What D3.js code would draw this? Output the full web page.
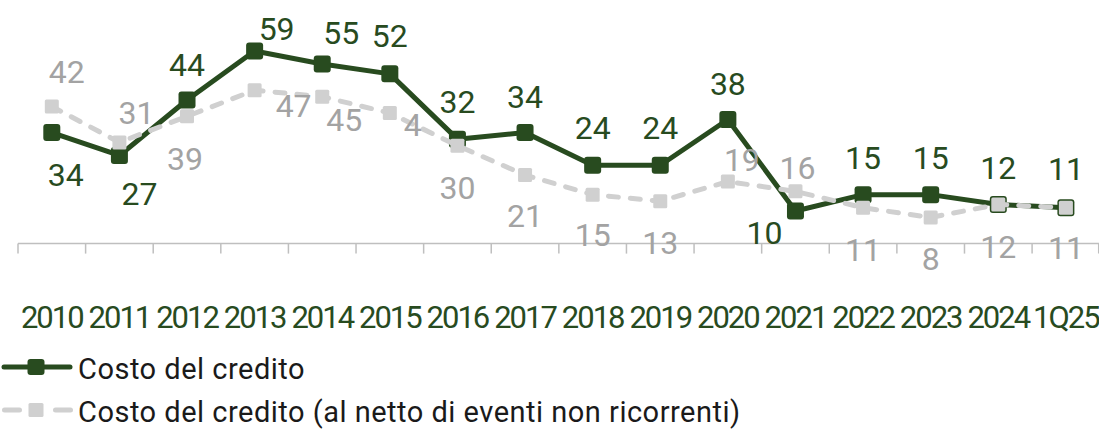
<!DOCTYPE html>
<html>
<head>
<meta charset="utf-8">
<script src="https://cdn.jsdelivr.net/npm/d3@7"></script>
<style>
  html, body { margin: 0; padding: 0; background: #ffffff; }
  svg { display: block; font-family: Roboto, "DejaVu Sans", sans-serif; }
</style>
</head>
<body>
<svg id="chart" width="1099" height="429"></svg>
<script>
// Periods on the horizontal axis
const categories = ["2010", "2011", "2012", "2013", "2014", "2015", "2016", "2017",
                    "2018", "2019", "2020", "2021", "2022", "2023", "2024", "1Q25"];
// Cost of credit (basis points)
const creditCost = [34, 27, 44, 59, 55, 52, 32, 34, 24, 24, 38, 10, 15, 15, 12, 11];
// Cost of credit excluding non-recurring events (basis points)
const creditCostNet = [42, 31, 39, 47, 45, 40, 30, 21, 15, 13, 19, 16, 11, 8, 12, 11];
// Series names
const seriesNames = ["Costo del credito", "Costo del credito (al netto di eventi non ricorrenti)"];

// Data-label placement relative to each point: [dx, dy] to the label centre
const creditCostLabelOffset = [
  [14, 42], [20, 38], [0, -35], [22, -22], [19, -31], [0, -38], [0, -37], [0, -36],
  [0, -38], [0, -38], [0, -36], [-31, 22], [0, -37], [0, -37], [0, -37], [0, -39]
];
const creditCostNetLabelOffset = [
  [15, -35], [17, -30], [-2, 42], [39, 15], [22, 23], [23, 12], [0, 42], [0, 41],
  [0, 40], [0, 41], [14, -22], [2, -24], [0, 42], [0, 41], [0, 42], [0, 40]
];

const GREEN = "#284b1f";
const GREY_LINE = "#d0d0d0";
const GREY_TEXT = "#a3a3a3";
const AXIS = "#bfbfbf";

const svg = d3.select("#chart");

const x = d3.scaleBand().domain(categories).range([18, 1099.7]).paddingInner(0).paddingOuter(0);
const y = d3.scaleLinear().domain([0, 59]).range([243.6, 51]);
const cx = c => x(c) + x.bandwidth() / 2;

// Category axis: baseline, boundary ticks, labels
const axisY = y(0);
svg.append("line")
  .attr("x1", x.range()[0]).attr("x2", x.range()[1])
  .attr("y1", axisY).attr("y2", axisY)
  .attr("stroke", AXIS).attr("stroke-width", 1.5);

const tickPos = categories.map(c => x(c)).concat([x.range()[1] - 1]);
svg.append("g").selectAll("line").data(tickPos).join("line")
  .attr("x1", d => d).attr("x2", d => d)
  .attr("y1", axisY).attr("y2", axisY + 10)
  .attr("stroke", AXIS).attr("stroke-width", 1.5);

svg.append("g").selectAll("text").data(categories).join("text")
  .attr("x", d => cx(d))
  .attr("y", 328)
  .attr("text-anchor", "middle")
  .attr("font-size", 31)
  .attr("letter-spacing", -2)
  .attr("fill", GREEN)
  .text(d => d);

// Series lines
const line = d3.line().x((d, i) => cx(categories[i])).y(d => y(d));

svg.append("path").datum(creditCost)
  .attr("d", line).attr("fill", "none")
  .attr("stroke", GREEN).attr("stroke-width", 5).attr("stroke-linejoin", "round");

svg.append("g").selectAll("rect").data(creditCost).join("rect")
  .attr("x", (d, i) => cx(categories[i]) - 8.5)
  .attr("y", d => y(d) - 8.5)
  .attr("width", 17).attr("height", 17).attr("rx", 3)
  .attr("fill", GREEN);

svg.append("path").datum(creditCostNet)
  .attr("d", line).attr("fill", "none")
  .attr("stroke", GREY_LINE).attr("stroke-width", 5)
  .attr("stroke-dasharray", "10,12").attr("stroke-linecap", "round");

svg.append("g").selectAll("rect").data(creditCostNet).join("rect")
  .attr("x", (d, i) => cx(categories[i]) - 7)
  .attr("y", d => y(d) - 7)
  .attr("width", 14).attr("height", 14).attr("rx", 1.5)
  .attr("fill", GREY_LINE);

// Data labels
const LABEL_SIZE = 32;
const capShift = LABEL_SIZE * 0.355;

// the label of the 2015 adjusted value is cut off after its first digit
const defs = svg.append("defs");
const cut = 5;
const cutX = cx(categories[cut]) + creditCostNetLabelOffset[cut][0] + 9;
defs.append("clipPath").attr("id", "labelCut")
  .append("rect").attr("x", cutX - 40).attr("y", 0).attr("width", 40).attr("height", 429);

svg.append("g").selectAll("text").data(creditCostNet).join("text")
  .attr("x", (d, i) => cx(categories[i]) + creditCostNetLabelOffset[i][0] + (i === cut ? -9 : 0))
  .attr("y", (d, i) => y(d) + creditCostNetLabelOffset[i][1] + capShift)
  .attr("text-anchor", (d, i) => i === cut ? "start" : "middle")
  .attr("clip-path", (d, i) => i === cut ? "url(#labelCut)" : null)
  .attr("font-size", LABEL_SIZE)
  .attr("fill", GREY_TEXT)
  .text(d => d);

svg.append("g").selectAll("text").data(creditCost).join("text")
  .attr("x", (d, i) => cx(categories[i]) + creditCostLabelOffset[i][0])
  .attr("y", (d, i) => y(d) + creditCostLabelOffset[i][1] + capShift)
  .attr("text-anchor", "middle")
  .attr("font-size", LABEL_SIZE)
  .attr("fill", GREEN)
  .text(d => d);

// Legend
const legend = svg.append("g");
const rows = [367, 410];

legend.append("line")
  .attr("x1", 4).attr("x2", 70).attr("y1", rows[0]).attr("y2", rows[0])
  .attr("stroke", GREEN).attr("stroke-width", 5).attr("stroke-linecap", "round");
legend.append("rect")
  .attr("x", 36 - 8.5).attr("y", rows[0] - 8).attr("width", 17).attr("height", 16).attr("rx", 3)
  .attr("fill", GREEN);

legend.append("line")
  .attr("x1", 4.5).attr("x2", 71).attr("y1", rows[1]).attr("y2", rows[1])
  .attr("stroke", GREY_LINE).attr("stroke-width", 5).attr("stroke-linecap", "round")
  .attr("stroke-dasharray", "15,36");
legend.append("rect")
  .attr("x", 36 - 7.5).attr("y", rows[1] - 7).attr("width", 15).attr("height", 14).attr("rx", 1.5)
  .attr("fill", GREY_LINE);

legend.selectAll("text").data(seriesNames).join("text")
  .attr("x", 78)
  .attr("y", (d, i) => rows[i] + 12)
  .attr("font-size", 29)
  .attr("letter-spacing", 0.5)
  .attr("fill", "#1a1a1a")
  .text(d => d);
</script>
</body>
</html>
